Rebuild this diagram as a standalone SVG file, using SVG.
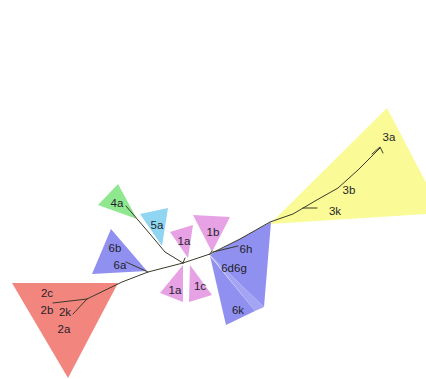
<svg xmlns="http://www.w3.org/2000/svg" width="426" height="379" viewBox="0 0 426 379">
<style>
.lbl{font-family:"Liberation Sans",Arial,sans-serif;font-size:11.5px;fill:#1f1f2a;text-anchor:middle}
.red{fill:#f3857f}
.blue{fill:#9090f0}
.blue2{fill:#a4a4f4}
.green{fill:#8fe88f}
.cyan{fill:#90d6f2}
.pink{fill:#e6a2e4}
.yellow{fill:#fafa96}
.br{fill:none;stroke:#3a3a2a;stroke-width:1;stroke-linecap:round;stroke-linejoin:round}
</style>
<rect width="426" height="379" fill="#ffffff"/>
<g id="g3"><polygon class="yellow" points="387,108 442,213 270,224"/><text class="lbl" x="389" y="141">3a</text><text class="lbl" x="349" y="194">3b</text><text class="lbl" x="335" y="215">3k</text></g>
<g id="g2"><polygon class="red" points="12,283 118,283 68,378"/><text class="lbl" x="47" y="297">2c</text><text class="lbl" x="47" y="314">2b</text><text class="lbl" x="65" y="316">2k</text><text class="lbl" x="64" y="333">2a</text></g>
<g id="g6ab"><polygon class="blue" points="111,229 92,274 147,271"/><text class="lbl" x="115" y="252">6b</text><text class="lbl" x="120" y="269">6a</text></g>
<g id="g4a"><polygon class="green" points="118,184 98,205 137,219"/><text class="lbl" x="117" y="207">4a</text></g>
<g id="g5a"><polygon class="cyan" points="140,214 168,208 162,246"/><text class="lbl" x="157" y="229">5a</text></g>
<g id="g1a-top"><polygon class="pink" points="170,232 193,225 188,258"/><text class="lbl" x="184" y="245">1a</text></g>
<g id="g1b"><polygon class="pink" points="193,215 230,217 212,252"/><text class="lbl" x="213" y="236">1b</text></g>
<g id="g1a-bottom"><polygon class="pink" points="183,265 160,293 183,302"/><text class="lbl" x="175" y="294">1a</text></g>
<g id="g1c"><polygon class="pink" points="190,265 212,295 189,302"/><text class="lbl" x="200" y="290">1c</text></g>
<g id="g6"><polygon class="blue" points="210,255 271,222 264,307"/><polygon class="blue2" points="210,255 264,307 255,311"/><polygon class="blue" points="210,256 255,311 226,325"/><text class="lbl" x="246" y="253">6h</text><text class="lbl" x="234" y="272">6d6g</text><text class="lbl" x="238" y="314">6k</text></g>
<g id="connectors">
<path class="br" d="M183,263 L148,272 L122,282 L87,299"/>
<path class="br" d="M87,299 L53,303"/>
<path class="br" d="M87,299 L73,314"/>
<path class="br" d="M148,272 L126,262"/>
<path class="br" d="M183,263 L165,252 L150,234 L126,206"/>
<path class="br" d="M183,263 L185,258"/>
<path class="br" d="M183,263 L210,254"/>
<path class="br" d="M210,254 L212,251"/>
<path class="br" d="M213,252 L238,246"/>
<path class="br" d="M210,254 L240,239 L270,222 L293,214 L315,201 L338,188 L358,170 L380,148"/>
<path class="br" d="M303,208 L317,208"/>
<path class="br" d="M372,154 L380,147 L383,153"/>
</g>
</svg>
